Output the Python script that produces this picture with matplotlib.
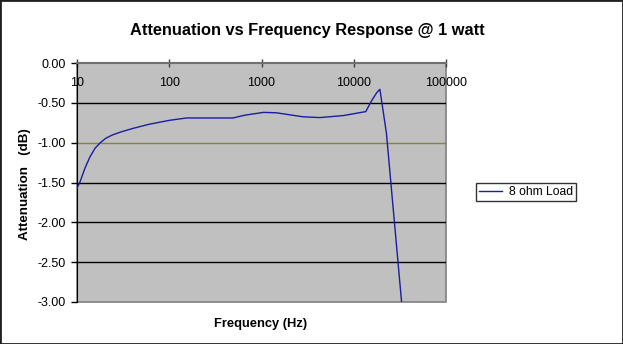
import numpy as np
import matplotlib
matplotlib.use("Agg")
import matplotlib.pyplot as plt
from matplotlib.patches import Rectangle

plt.rcParams['font.family'] = ['Liberation Sans', 'DejaVu Sans']

freq_hz = [10, 10.8, 12.2, 13.8, 15.7, 17.9, 20.5, 24, 30, 40.7, 60, 100, 154,
           300, 490, 660, 1050, 1450, 2800, 4300, 7700, 13500, 15500, 17800,
           19200, 22600, 33000]
atten_db = [-1.57, -1.49, -1.32, -1.18, -1.07, -1.00, -0.945, -0.905, -0.865, -0.82,
            -0.77, -0.72, -0.69, -0.69, -0.69, -0.655, -0.62, -0.625, -0.675,
            -0.685, -0.66, -0.61, -0.48, -0.37, -0.33, -0.88, -3.00]
series_name = "8 ohm Load"
x_ticks = [10, 100, 1000, 10000, 100000]
y_ticks = [0.0, -0.5, -1.0, -1.5, -2.0, -2.5, -3.0]

fig = plt.figure(figsize=(6.23, 3.44), dpi=100)
fig.patches.append(Rectangle((0, 0), 1, 1, transform=fig.transFigure,
                             fill=False, edgecolor='#202020', linewidth=2))

ax = fig.add_axes([77 / 623, 1 - 302 / 344, 369 / 623, 239 / 344])
ax.set_facecolor('#c0c0c0')
ax.patch.set_edgecolor('#808080')
ax.patch.set_linewidth(1.2)

ax.plot(freq_hz, atten_db, color='#1c1ca0', linewidth=1.0, label=series_name,
        zorder=3, solid_joinstyle='round')

ax.set_xscale('log')
ax.set_xlim(10, 100000)
ax.set_ylim(-3.0, 0.0)
ax.set_xticks(x_ticks)
ax.set_xticklabels([str(t) for t in x_ticks])
ax.minorticks_off()
ax.set_yticks(y_ticks)
ax.set_yticklabels(['%.2f' % t for t in y_ticks])

# x axis crosses at 0 dB (top of plot), labels hang inside
ax.spines['bottom'].set_position(('data', 0))
ax.spines['bottom'].set_color('#707070')
ax.spines['bottom'].set_linewidth(1.5)
ax.spines['top'].set_visible(False)
ax.spines['right'].set_visible(False)
ax.spines['left'].set_color('black')
ax.tick_params(axis='x', direction='inout', length=6, width=1, colors='#404040',
               labelsize=9, labelcolor='black', pad=7)
ax.tick_params(axis='y', direction='out', length=4, width=1, labelsize=9, pad=4)

ax.yaxis.grid(True, color='black', linewidth=1)
ax.set_axisbelow(True)
for val, gl in zip(y_ticks, ax.get_ygridlines()):
    if val == -1.0:
        gl.set_color('#86863a')
    if val in (0.0, -3.0):
        gl.set_visible(False)

fig.text(307 / 623, 1 - 31 / 344, "Attenuation vs Frequency Response @ 1 watt",
         ha='center', va='center', fontsize=11.8, fontweight='bold')
fig.text(261 / 623, 1 - 324 / 344, "Frequency (Hz)", ha='center', va='center',
         fontsize=9.3, fontweight='bold')
fig.text(25 / 623, 1 - 184 / 344, "Attenuation   (dB)", ha='center', va='center',
         rotation=90, fontsize=9.6, fontweight='bold')

leg = fig.legend(loc='center', bbox_to_anchor=(526 / 623, 1 - 192 / 344),
                 fontsize=8.7, frameon=True, fancybox=False, handlelength=1.9,
                 borderpad=0.25, handletextpad=0.55, borderaxespad=0)
leg.get_frame().set_edgecolor('black')
leg.get_frame().set_linewidth(1)

fig.savefig('out.png', dpi=100)
